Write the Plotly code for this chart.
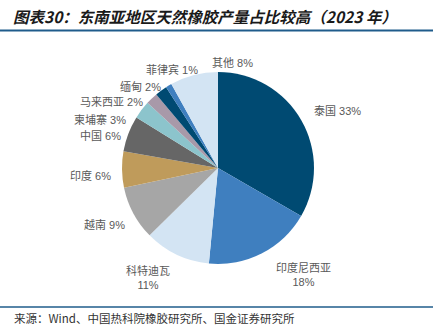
import plotly.graph_objects as go

W, H = 433, 327

countries = ["泰国", "印度尼西亚", "科特迪瓦", "越南", "印度", "中国", "柬埔寨", "马来西亚", "缅甸", "菲律宾", "其他"]
shares = [33, 18, 11, 9, 6, 6, 3, 2, 2, 1, 8]
colors = ["#004A72", "#3F7FBF", "#D3E4F3", "#A6A6A6", "#BF9B5B", "#666666",
          "#8CC4CC", "#A899A9", "#004A72", "#3F7FBF", "#D3E4F3"]
label_text = [f"{c}<br>{v}%" if c in ("印度尼西亚", "科特迪瓦") else f"{c} {v}%"
              for c, v in zip(countries, shares)]
# label anchor positions in pixels (layout only)
label_px = [(337, 111), (303, 274), (148, 277), (104, 224), (90, 175), (100, 136),
            (100, 119), (111, 102), (140, 86), (172, 70), (232, 63)]

cx, cy, r = 218, 168, 96

fig = go.Figure(go.Pie(
    labels=countries, values=shares, sort=False, direction="clockwise", rotation=0,
    marker=dict(colors=colors, line=dict(width=0)),
    textinfo="none", hoverinfo="label+percent", showlegend=False,
    domain=dict(x=[(cx - r) / W, (cx + r) / W], y=[1 - (cy + r) / H, 1 - (cy - r) / H]),
))

font_cjk = "Noto Sans CJK SC, Liberation Sans, sans-serif"
annos = []
for t, (px, py) in zip(label_text, label_px):
    annos.append(dict(x=px / W, y=1 - py / H, xref="paper", yref="paper", text=t,
                      showarrow=False, xanchor="center", yanchor="middle",
                      font=dict(size=11, color="#595959", family="Liberation Sans, Noto Sans CJK SC"),
                      align="center"))
annos.append(dict(x=11 / W, y=1 - 16 / H, xref="paper", yref="paper",
                  text="<b><i>图表30：东南亚地区天然橡胶产量占比较高（2023 年）</i></b>",
                  showarrow=False, xanchor="left", yanchor="middle",
                  font=dict(size=15.5, color="#1a1a1a", family=font_cjk)))
annos.append(dict(x=12 / W, y=1 - 318 / H, xref="paper", yref="paper",
                  text="来源：Wind、中国热科院橡胶研究所、国金证券研究所",
                  showarrow=False, xanchor="left", yanchor="middle",
                  font=dict(size=11.5, color="#333333", family=font_cjk)))

fig.update_layout(
    width=W, height=H, margin=dict(l=0, r=0, t=0, b=0),
    paper_bgcolor="white", plot_bgcolor="white",
    annotations=annos,
    shapes=[
        dict(type="line", xref="paper", yref="paper", x0=0, x1=1, y0=1 - 30.5 / H, y1=1 - 30.5 / H,
             line=dict(color="#1F5C8B", width=1.8)),
        dict(type="line", xref="paper", yref="paper", x0=0, x1=1, y0=1 - 307 / H, y1=1 - 307 / H,
             line=dict(color="#1F5C8B", width=1.5)),
    ],
)

fig.write_html("out.html")
